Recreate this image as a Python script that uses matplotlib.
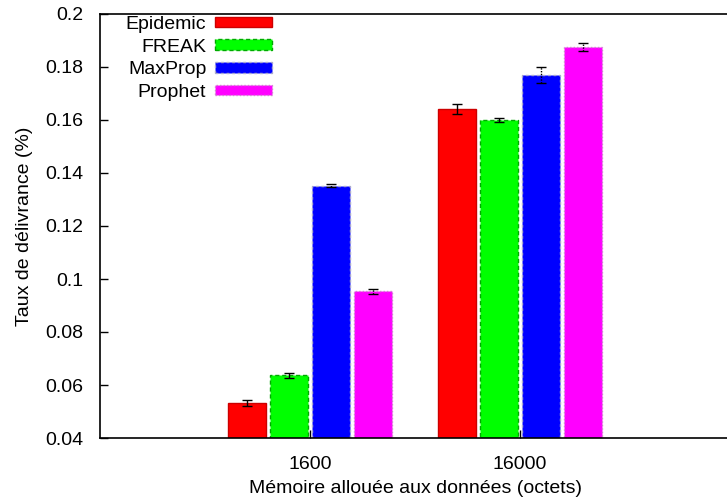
import matplotlib
matplotlib.use("Agg")
import matplotlib.pyplot as plt
from matplotlib.ticker import FuncFormatter, MultipleLocator
import numpy as np

plt.rcParams["font.family"] = ["Liberation Sans", "DejaVu Sans"]
plt.rcParams["font.size"] = 14

groups = ["1600", "16000"]
series = ["Epidemic", "FREAK", "MaxProp", "Prophet"]
values = {
    "Epidemic": [0.0532, 0.1642],
    "FREAK": [0.0636, 0.1601],
    "MaxProp": [0.1352, 0.1771],
    "Prophet": [0.0953, 0.1876],
}
errors = {
    "Epidemic": [0.0010, 0.0020],
    "FREAK": [0.0010, 0.0007],
    "MaxProp": [0.0005, 0.0030],
    "Prophet": [0.0010, 0.0015],
}

colors = ["#ff0000", "#00ff00", "#0000ff", "#ff00ff"]
edges = ["#cc0000", "#00aa00", "#aaaacc", "#cc88cc"]
edge_styles = ["-", (0, (3, 2)), (0, (2, 2)), (0, (1, 1.5))]
err_styles = ["-", "-", (0, (1, 1)), (0, (1, 1))]

fig = plt.figure(figsize=(7.27, 4.98), dpi=100)
ax = fig.add_axes([100 / 727, 60 / 498, 630 / 727, 424 / 498])

x = np.arange(len(groups))
width = 0.185
offsets = [-0.3, -0.1, 0.1, 0.3]

for i, name in enumerate(series):
    ax.bar(x + offsets[i], values[name], width, bottom=0,
           color=colors[i], edgecolor=edges[i], linewidth=1.0,
           linestyle=edge_styles[i], label=name, zorder=2)
    eb = ax.errorbar(x + offsets[i], values[name], yerr=errors[name], fmt="none",
                     ecolor="black", elinewidth=1.0, capsize=3.5, capthick=1.0, zorder=3)
    for lc in eb[2]:
        lc.set_linestyle(err_styles[i])

ax.set_xlim(-1, 2)
ax.set_ylim(0.04, 0.2)
ax.set_xticks(x)
ax.set_xticklabels(groups)
ax.yaxis.set_major_locator(MultipleLocator(0.02))
ax.yaxis.set_major_formatter(FuncFormatter(lambda v, p: f"{v:g}"))
ax.tick_params(direction="in", length=6, width=1, top=False, right=False)
ax.tick_params(axis="y", pad=12)
ax.tick_params(axis="x", pad=13)
for sp in ax.spines.values():
    sp.set_linewidth(1.2)

ax.set_xlabel("Mémoire allouée aux données (octets)", labelpad=5)
ax.set_ylabel("Taux de délivrance (%)", labelpad=9)

leg = ax.legend(loc="upper left", bbox_to_anchor=(0.041, 0.996), frameon=False,
                markerfirst=False, handlelength=2.95, handleheight=0.45,
                labelspacing=0.3, handletextpad=0.45, borderaxespad=0.0,
                borderpad=0.0)
for t in leg.get_texts():
    t.set_ha("right")
leg._legend_box.align = "right"

fig.savefig("out.png", dpi=100)
